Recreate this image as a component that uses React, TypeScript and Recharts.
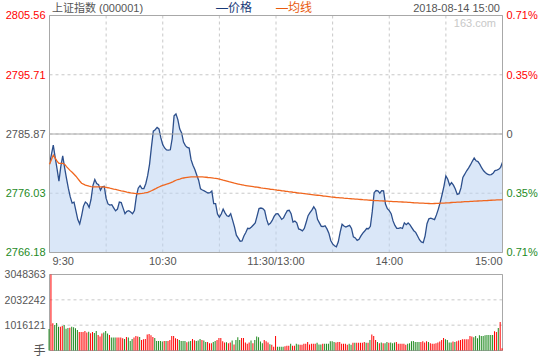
import {
  Area,
  Bar,
  BarChart,
  CartesianGrid,
  Cell,
  ComposedChart,
  Line,
  ReferenceArea,
  ReferenceLine,
  XAxis,
  YAxis,
} from "recharts";

const prevClose = 2785.87;
const priceTicks = [2766.18, 2776.03, 2785.87, 2795.71, 2805.56];
const pctLabels = ["0.71%", "0.35%", "0", "0.35%", "0.71%"];
const gridMinutes = [0, 30, 60, 90, 120, 150, 180, 210, 240];
const timeTickMinutes = [0, 60, 120, 180, 240];
const timeTickLabels = ["9:30", "10:30", "11:30/13:00", "14:00", "15:00"];
const volumeTicks = [0, 1016121, 2032242, 3048363];
const volumeUnit = "手";

// one value per minute, 9:30 .. 15:00
const prices = [
  2780.86, 2782.43, 2784.03, 2782.0, 2780.06, 2778.03, 2780.5, 2782.23, 2780.28, 2778.48,
  2776.82, 2775.41, 2774.39, 2774.55, 2773.1, 2771.65, 2770.93, 2772.28, 2773.89, 2774.57,
  2774.3, 2773.69, 2774.99, 2777.31, 2778.31, 2777.64, 2777.44, 2776.54, 2777.11, 2777.19,
  2775.17, 2774.25, 2774.05, 2774.12, 2773.6, 2773.1, 2773.4, 2774.57, 2774.47, 2773.55,
  2772.63, 2773.02, 2773.12, 2772.92, 2772.63, 2773.14, 2775.47, 2776.87, 2777.29, 2776.81,
  2776.81, 2777.61, 2778.94, 2780.83, 2783.7, 2786.34, 2786.59, 2786.97, 2786.71, 2785.22,
  2784.1, 2783.55, 2783.23, 2783.2, 2783.25, 2785.12, 2788.89, 2789.21, 2788.26, 2786.69,
  2786.04, 2784.52, 2783.93, 2783.65, 2783.53, 2781.61, 2780.68, 2779.96, 2779.06, 2778.19,
  2776.76, 2776.56, 2776.41, 2776.24, 2776.07, 2776.11, 2776.39, 2774.3, 2774.3, 2772.57,
  2772.05, 2772.57, 2773.39, 2772.77, 2772.28, 2772.18, 2772.63, 2771.57, 2770.43, 2769.06,
  2768.58, 2768.06, 2768.11, 2768.91, 2769.51, 2770.21, 2770.15, 2770.41, 2770.75, 2771.1,
  2772.27, 2773.49, 2773.57, 2773.47, 2773.14, 2771.72, 2770.8, 2771.03, 2771.5, 2772.18,
  2772.6, 2772.63, 2772.2, 2771.68, 2771.93, 2772.57, 2773.14, 2773.2, 2772.63, 2771.23,
  2771.4, 2771.12, 2770.1, 2769.98, 2769.78, 2770.17, 2771.2, 2772.3, 2772.79, 2773.22,
  2773.77, 2773.29, 2771.68, 2771.1, 2770.53, 2770.5, 2770.63, 2770.1, 2769.4, 2768.18,
  2767.61, 2767.31, 2767.14, 2767.96, 2769.56, 2770.87, 2770.58, 2770.4, 2770.57, 2770.7,
  2770.18, 2768.78, 2768.6, 2768.19, 2768.38, 2768.93, 2769.41, 2769.75, 2770.17, 2770.13,
  2770.53, 2772.97, 2776.12, 2776.47, 2776.41, 2776.04, 2776.46, 2776.41, 2774.22, 2773.45,
  2773.14, 2772.63, 2771.43, 2770.68, 2770.18, 2770.18, 2770.31, 2770.17, 2771.1, 2770.8,
  2771.08, 2770.78, 2770.28, 2769.8, 2769.53, 2768.93, 2768.31, 2767.95, 2767.81, 2768.95,
  2770.97, 2771.78, 2771.9, 2771.77, 2771.65, 2772.43, 2773.39, 2774.5, 2775.82, 2777.21,
  2778.91, 2778.36, 2777.36, 2777.81, 2777.37, 2776.74, 2775.84, 2775.96, 2776.91, 2778.66,
  2779.19, 2779.76, 2780.2, 2780.73, 2781.33, 2781.88, 2781.41, 2781.28, 2780.83, 2780.23,
  2779.75, 2779.44, 2779.21, 2779.08, 2779.13, 2779.33, 2779.8, 2779.86, 2780.01, 2780.33,
  2781.2,
];

const avgPrices = [
  2780.86, 2781.61, 2782.37, 2781.86, 2781.36, 2780.98, 2780.98, 2781.0, 2780.86, 2780.45,
  2780.11, 2779.78, 2779.5, 2779.19, 2778.86, 2778.46, 2778.06, 2777.69, 2777.53, 2777.39,
  2777.29, 2777.19, 2777.11, 2777.08, 2777.08, 2777.08, 2777.08, 2777.08, 2777.08, 2777.06,
  2777.01, 2776.94, 2776.86, 2776.79, 2776.72, 2776.66, 2776.57, 2776.49, 2776.42, 2776.36,
  2776.29, 2776.22, 2776.16, 2776.09, 2776.04, 2775.99, 2775.96, 2775.94, 2775.96, 2775.99,
  2776.04, 2776.11, 2776.19, 2776.31, 2776.44, 2776.59, 2776.74, 2776.91, 2777.06, 2777.21,
  2777.33, 2777.43, 2777.53, 2777.64, 2777.74, 2777.86, 2778.03, 2778.19, 2778.31, 2778.39,
  2778.48, 2778.56, 2778.63, 2778.68, 2778.71, 2778.74, 2778.76, 2778.76, 2778.76, 2778.76,
  2778.74, 2778.73, 2778.71, 2778.68, 2778.64, 2778.61, 2778.58, 2778.54, 2778.51, 2778.44,
  2778.36, 2778.28, 2778.19, 2778.11, 2778.03, 2777.94, 2777.86, 2777.78, 2777.69, 2777.63,
  2777.56, 2777.49, 2777.43, 2777.36, 2777.31, 2777.26, 2777.21, 2777.16, 2777.11, 2777.06,
  2777.03, 2776.98, 2776.92, 2776.87, 2776.84, 2776.79, 2776.74, 2776.69, 2776.66, 2776.61,
  2776.57, 2776.52, 2776.49, 2776.44, 2776.41, 2776.36, 2776.32, 2776.27, 2776.24, 2776.19,
  2776.16, 2776.11, 2776.07, 2776.04, 2775.99, 2775.96, 2775.92, 2775.87, 2775.84, 2775.81,
  2775.77, 2775.72, 2775.69, 2775.66, 2775.62, 2775.57, 2775.54, 2775.51, 2775.47, 2775.42,
  2775.39, 2775.36, 2775.31, 2775.29, 2775.26, 2775.24, 2775.21, 2775.19, 2775.16, 2775.14,
  2775.11, 2775.09, 2775.06, 2775.04, 2775.01, 2774.99, 2774.96, 2774.94, 2774.91, 2774.87,
  2774.86, 2774.84, 2774.82, 2774.81, 2774.79, 2774.77, 2774.76, 2774.74, 2774.72, 2774.71,
  2774.69, 2774.67, 2774.65, 2774.64, 2774.62, 2774.6, 2774.59, 2774.57, 2774.55, 2774.54,
  2774.52, 2774.5, 2774.47, 2774.45, 2774.44, 2774.42, 2774.4, 2774.39, 2774.37, 2774.35,
  2774.34, 2774.32, 2774.3, 2774.3, 2774.32, 2774.34, 2774.35, 2774.37, 2774.39, 2774.4,
  2774.42, 2774.44, 2774.45, 2774.49, 2774.5, 2774.52, 2774.54, 2774.55, 2774.57, 2774.6,
  2774.62, 2774.64, 2774.65, 2774.67, 2774.69, 2774.71, 2774.72, 2774.74, 2774.76, 2774.77,
  2774.79, 2774.81, 2774.82, 2774.84, 2774.86, 2774.87, 2774.89, 2774.91, 2774.92, 2774.94,
  2774.96,
];

const volumes = [
  863000, 3048363, 1089000, 1023000, 1102000, 956000, 956000, 983000, 1023000, 877000,
  903000, 917000, 956000, 930000, 890000, 824000, 744000, 744000, 744000, 784000,
  717000, 757000, 691000, 744000, 704000, 784000, 624000, 558000, 677000, 717000,
  784000, 677000, 624000, 518000, 518000, 518000, 518000, 518000, 518000, 491000,
  465000, 545000, 518000, 385000, 465000, 518000, 584000, 558000, 545000, 425000,
  452000, 465000, 638000, 664000, 611000, 545000, 505000, 385000, 385000, 385000,
  359000, 385000, 385000, 385000, 425000, 584000, 584000, 491000, 465000, 425000,
  385000, 385000, 385000, 332000, 359000, 385000, 465000, 412000, 385000, 398000,
  465000, 425000, 398000, 345000, 345000, 292000, 292000, 345000, 385000, 425000,
  505000, 505000, 372000, 319000, 332000, 292000, 319000, 398000, 239000, 425000,
  531000, 425000, 505000, 505000, 319000, 266000, 319000, 398000, 292000, 425000,
  558000, 531000, 359000, 292000, 425000, 372000, 319000, 252000, 226000, 146000,
  584000, 146000, 146000, 146000, 146000, 173000, 186000, 186000, 266000, 186000,
  186000, 266000, 239000, 226000, 226000, 266000, 266000, 345000, 239000, 266000,
  266000, 266000, 306000, 239000, 239000, 266000, 266000, 266000, 266000, 372000,
  372000, 345000, 319000, 345000, 345000, 266000, 266000, 266000, 226000, 266000,
  226000, 306000, 306000, 306000, 306000, 306000, 306000, 345000, 306000, 306000,
  425000, 638000, 584000, 425000, 345000, 292000, 319000, 292000, 292000, 345000,
  306000, 319000, 292000, 319000, 345000, 266000, 266000, 266000, 266000, 226000,
  266000, 292000, 372000, 385000, 345000, 345000, 345000, 345000, 372000, 319000,
  372000, 345000, 292000, 266000, 266000, 292000, 319000, 359000, 425000, 505000,
  452000, 425000, 319000, 319000, 359000, 345000, 372000, 398000, 425000, 452000,
  452000, 452000, 452000, 584000, 558000, 531000, 584000, 491000, 611000, 584000,
  584000, 611000, 624000, 624000, 624000, 624000, 770000, 744000, 903000, 1142000,
  93000,
];

// r = bar drawn red (price up), g = green (price down)
const barDirections = (
  "grrgggrrgg" + "grggggrrrr" + "rgrrggrrrg" + "ggrgggrrrr" + "grgggrrrgr" +
  "rrrrrrgggg" + "grgrrrrrrg" + "gggrggrrgg" + "grggrrrggr" + "rrrrgrrgrg" +
  "ggrrrrrgrg" + "ggggrrrgrr" + "rggggrrrgr" + "rggrrrrrrr" + "rrgggrgggg" +
  "ggrrrrrrrg" + "grgrrrrrgr" + "grrrgrgrgg" + "rgggrrrrrr" + "gggggggrrr" +
  "rgrrrrrrrr" + "ggggrgrrrr" + "rrrrrggggg" + "ggggggrrgr" + "r"
).split("");

const RED = "#ff0000";
const GREEN = "#1e8a1e";
const GRAY = "#555555";
const BORDER = "#a8a8a8";
const GRID = "#c8c8c8";
const FONT = "'Liberation Sans', Arial, 'Noto Sans CJK SC', sans-serif";

const priceData = prices.map((price, i) => ({ minute: i, price, avg: avgPrices[i] }));
const volumeData = volumes.map((volume, i) => ({
  minute: i,
  volume,
  up: barDirections[i] === "r",
}));

function signColor(v: number) {
  if (v > prevClose + 0.001) return RED;
  if (v < prevClose - 0.001) return GREEN;
  return GRAY;
}

function PriceTick({ x, y, payload }: any) {
  const v = payload.value as number;
  return (
    <text x={x} y={y} dy="0.355em" textAnchor="end" fill={signColor(v)} fontSize={11} fontFamily={FONT}>
      {v.toFixed(2)}
    </text>
  );
}

function PctTick({ x, y, payload }: any) {
  const v = payload.value as number;
  const idx = priceTicks.indexOf(v);
  return (
    <text x={x} y={y} dy="0.355em" textAnchor="start" fill={signColor(v)} fontSize={11} fontFamily={FONT}>
      {pctLabels[idx]}
    </text>
  );
}

function TimeTick({ x, y, payload }: any) {
  const idx = timeTickMinutes.indexOf(payload.value);
  if (idx < 0) return <g />;
  const last = timeTickLabels.length - 1;
  const anchor = idx === 0 ? "start" : idx === last ? "end" : "middle";
  return (
    <text x={idx === 0 ? x + 3 : x} y={y} dy="0.71em" textAnchor={anchor} fill={GRAY} fontSize={11} fontFamily={FONT}>
      {timeTickLabels[idx]}
    </text>
  );
}

function VolumeTick({ x, y, payload }: any) {
  const v = payload.value as number;
  const isZero = v === 0;
  return (
    <text
      x={x}
      y={y}
      dy="0.355em"
      textAnchor="end"
      fill={GRAY}
      fontSize={isZero ? 12 : 10.5}
      fontFamily={FONT}
    >
      {isZero ? volumeUnit : String(v)}
    </text>
  );
}

export default function App() {
  const lo = priceTicks[0];
  const hi = priceTicks[priceTicks.length - 1];
  const volMax = volumeTicks[volumeTicks.length - 1];
  return (
    <div style={{ position: "absolute", left: 0, top: 0, width: 540, height: 360, background: "#fff" }}>
      <div style={{ position: "absolute", left: 0, top: 0 }}>
        <ComposedChart width={540} height={270} data={priceData} margin={{ top: 15.5, right: 0, bottom: 0, left: 0 }}>
          <CartesianGrid yAxisId="left" stroke={GRID} strokeDasharray="3 3" />
          <XAxis
            type="number"
            dataKey="minute"
            domain={[0, 240]}
            ticks={gridMinutes}
            interval={0}
            height={17.5}
            axisLine={false}
            tickLine={false}
            tickSize={0}
            tickMargin={4.5}
            tick={<TimeTick />}
          />
          <YAxis
            yAxisId="left"
            orientation="left"
            type="number"
            domain={[lo, hi]}
            ticks={priceTicks}
            interval={0}
            width={49.5}
            axisLine={false}
            tickLine={false}
            tickSize={0}
            tickMargin={4}
            tick={<PriceTick />}
          />
          <YAxis
            yAxisId="right"
            orientation="right"
            type="number"
            domain={[lo, hi]}
            ticks={priceTicks}
            interval={0}
            width={37.5}
            axisLine={false}
            tickLine={false}
            tickSize={0}
            tickMargin={4}
            tick={<PctTick />}
          />
          <Area
            yAxisId="left"
            type="linear"
            dataKey="price"
            baseValue="dataMin"
            stroke="#2c4f8c"
            strokeWidth={1.3}
            fill="#bcd3f3"
            fillOpacity={0.55}
            dot={false}
            activeDot={false}
            isAnimationActive={false}
          />
          <Line
            yAxisId="right"
            type="linear"
            dataKey="avg"
            stroke="#f0661e"
            strokeWidth={1.3}
            dot={false}
            activeDot={false}
            isAnimationActive={false}
          />
          <ReferenceLine yAxisId="left" y={prevClose} stroke={BORDER} strokeWidth={1} />
          <ReferenceArea yAxisId="left" x1={0} x2={240} y1={lo} y2={hi} fill="none" stroke={BORDER} strokeWidth={1} />
        </ComposedChart>
      </div>

      <div style={{ position: "absolute", left: 0, top: 262 }}>
        <BarChart width={540} height={98} data={volumeData} margin={{ top: 12.5, right: 37.5, bottom: 9.5, left: 0 }}>
          <CartesianGrid stroke={GRID} strokeDasharray="3 3" />
          <XAxis
            type="number"
            dataKey="minute"
            domain={[0, 240]}
            ticks={gridMinutes}
            interval={0}
            height={0}
            axisLine={false}
            tickLine={false}
            tick={false}
          />
          <YAxis
            type="number"
            domain={[0, volMax]}
            ticks={volumeTicks}
            interval={0}
            width={49.5}
            axisLine={false}
            tickLine={false}
            tickSize={0}
            tickMargin={4}
            tick={<VolumeTick />}
          />
          <Bar dataKey="volume" barSize={1} isAnimationActive={false}>
            {volumeData.map((d) => (
              <Cell key={d.minute} fill={d.up ? RED : GREEN} />
            ))}
          </Bar>
          <ReferenceArea x1={0} x2={240} y1={0} y2={volMax} fill="none" stroke={BORDER} strokeWidth={1} />
        </BarChart>
      </div>

      <svg width={540} height={32} style={{ position: "absolute", left: 0, top: 0 }}>
        <text x={52} y={11.5} fill={GRAY} fontSize={11} fontFamily={FONT}>
          上证指数 (000001)
        </text>
        <text x={216} y={12} fill="#1a3a78" fontSize={12} fontFamily={FONT}>
          —价格
        </text>
        <text x={276} y={12} fill="#e85a0c" fontSize={12} fontFamily={FONT}>
          —均线
        </text>
        <text x={500} y={11.5} textAnchor="end" fill={GRAY} fontSize={11} fontFamily={FONT}>
          2018-08-14 15:00
        </text>
        <text x={496} y={27} textAnchor="end" fill="#c8c8c8" fontSize={11} fontFamily={FONT}>
          163.com
        </text>
      </svg>
    </div>
  );
}
